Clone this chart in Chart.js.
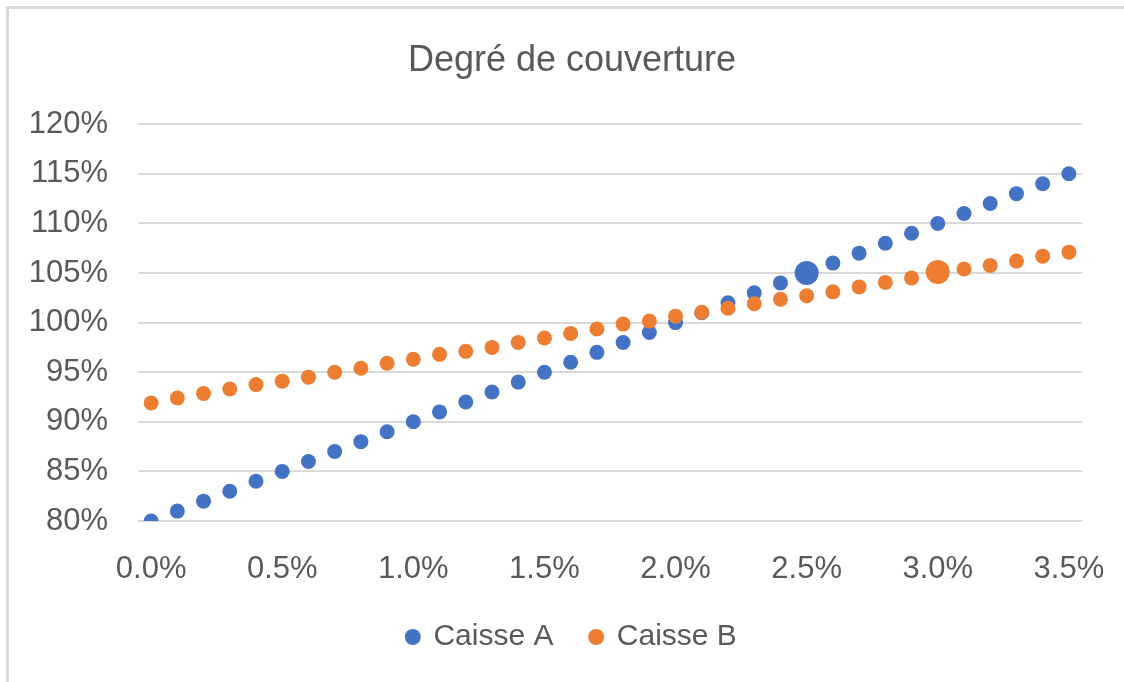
<!DOCTYPE html>
<html>
<head>
<meta charset="utf-8">
<script src="https://cdn.jsdelivr.net/npm/chart.js@4/dist/chart.umd.min.js"></script>
<style>
  html, body { margin: 0; padding: 0; background: #ffffff; }
  #c { display: block; }
</style>
</head>
<body>
<canvas id="c" width="1124" height="682"></canvas>
<script>
// ---- Data (values in percent) ----
const chartTitle = "Degré de couverture";
const seriesNames = ["Caisse A", "Caisse B"];
const tauxX = [0.0, 0.1, 0.2, 0.3, 0.4, 0.5, 0.6, 0.7, 0.8, 0.9,
               1.0, 1.1, 1.2, 1.3, 1.4, 1.5, 1.6, 1.7, 1.8, 1.9,
               2.0, 2.1, 2.2, 2.3, 2.4, 2.5, 2.6, 2.7, 2.8, 2.9,
               3.0, 3.1, 3.2, 3.3, 3.4, 3.5];
const caisseA = [80, 81, 82, 83, 84, 85, 86, 87, 88, 89,
                 90, 91, 92, 93, 94, 95, 96, 97, 98, 99,
                 100, 101, 102, 103, 104, 105, 106, 107, 108, 109,
                 110, 111, 112, 113, 114, 115];
const caisseB = [91.9, 92.4, 92.85, 93.3, 93.75, 94.1, 94.5, 95.0, 95.4, 95.9,
                 96.3, 96.8, 97.1, 97.5, 98.0, 98.45, 98.9, 99.35, 99.85, 100.15,
                 100.65, 101.05, 101.45, 101.9, 102.35, 102.7, 103.1, 103.6, 104.05, 104.5,
                 105.1, 105.4, 105.75, 106.2, 106.7, 107.1];
const highlightA = 2.5;   // x value of the enlarged Caisse A point
const highlightB = 3.0;   // x value of the enlarged Caisse B point
const xTickValues = [0.0, 0.5, 1.0, 1.5, 2.0, 2.5, 3.0, 3.5];
const yTickValues = [80, 85, 90, 95, 100, 105, 110, 115, 120];

// ---- Styles ----
const BLUE = '#4472C4';
const ORANGE = '#ED7D31';
const TEXT = '#595959';
const GRID = '#d9d9d9';
const FONT = "'Liberation Sans', Arial, sans-serif";

function toPoints(ys) { return tauxX.map((x, i) => ({ x: x, y: ys[i] })); }
function radiusFor(hx) {
  return (ctx) => (ctx.raw && Math.abs(ctx.raw.x - hx) < 1e-9) ? 12 : 7.5;
}

const frame = {
  id: 'frame',
  beforeDraw(chart) {
    const c = chart.ctx;
    c.save();
    c.fillStyle = '#ffffff';
    c.fillRect(0, 0, chart.width, chart.height);
    c.strokeStyle = GRID;
    c.lineWidth = 3;
    c.beginPath();
    c.moveTo(7.5, chart.height);
    c.lineTo(7.5, 7.5);
    c.lineTo(chart.width, 7.5);
    c.stroke();
    c.restore();
  }
};

new Chart(document.getElementById('c'), {
  type: 'scatter',
  data: {
    datasets: [
      {
        label: seriesNames[0],
        data: toPoints(caisseA),
        backgroundColor: BLUE,
        borderColor: BLUE,
        borderWidth: 0,
        pointRadius: radiusFor(highlightA),
        pointHoverRadius: radiusFor(highlightA),
        order: 1
      },
      {
        label: seriesNames[1],
        data: toPoints(caisseB),
        backgroundColor: ORANGE,
        borderColor: ORANGE,
        borderWidth: 0,
        pointRadius: radiusFor(highlightB),
        pointHoverRadius: radiusFor(highlightB),
        order: 0
      }
    ]
  },
  options: {
    responsive: false,
    animation: false,
    layout: { padding: { left: 20, right: 0, top: 0, bottom: 20 } },
    plugins: {
      title: {
        display: true,
        text: chartTitle,
        color: TEXT,
        font: { family: FONT, size: 36, weight: 'normal' },
        padding: { top: 39, bottom: 42 }
      },
      legend: {
        display: true,
        position: 'bottom',
        labels: {
          usePointStyle: true,
          pointStyle: 'circle',
          boxWidth: 11.3,
          boxHeight: 11.3,
          padding: 37,
          color: TEXT,
          font: { family: FONT, size: 30 },
          sort: (a, b) => a.datasetIndex - b.datasetIndex
        }
      },
      tooltip: { enabled: false }
    },
    scales: {
      x: {
        type: 'linear',
        min: -0.05,
        max: 3.55,
        afterBuildTicks: (s) => { s.ticks = xTickValues.map(v => ({ value: v })); },
        afterFit: (s) => { s.height = 64; },
        grid: { display: true, drawOnChartArea: false, drawTicks: true, tickLength: 27, color: 'rgba(0,0,0,0)' },
        border: { display: false },
        ticks: {
          padding: 3,
          color: TEXT,
          font: { family: FONT, size: 31 },
          maxRotation: 0,
          autoSkip: false,
          callback: (v) => Number(v).toFixed(1) + '%'
        }
      },
      y: {
        type: 'linear',
        position: 'left',
        min: 80,
        max: 120,
        afterBuildTicks: (s) => { s.ticks = yTickValues.map(v => ({ value: v })); },
        afterFit: (s) => { s.width = 118; },
        grid: { color: GRID, lineWidth: 2, drawTicks: false },
        border: { display: false },
        ticks: {
          padding: 30,
          color: TEXT,
          font: { family: FONT, size: 31 },
          callback: (v) => v + '%'
        }
      },
      yRight: {
        type: 'linear',
        position: 'right',
        display: true,
        afterFit: (s) => { s.width = 42; },
        grid: { display: false, drawTicks: false },
        border: { display: false },
        ticks: { display: false }
      }
    }
  },
  plugins: [frame]
});
</script>
</body>
</html>
